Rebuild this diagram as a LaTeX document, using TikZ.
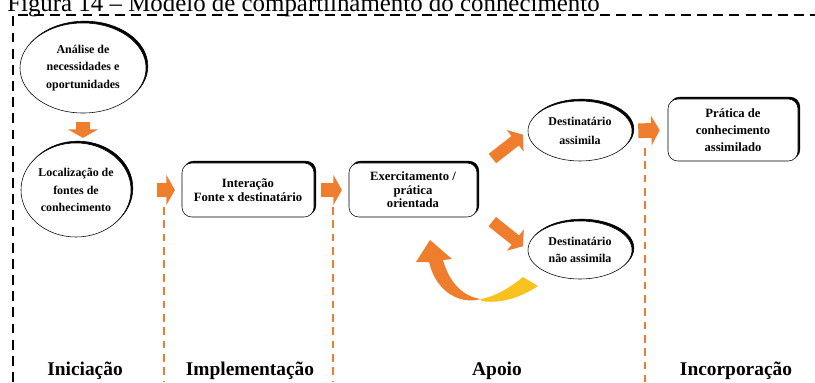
\documentclass[tikz,border=0pt]{standalone}
\usepackage{fontspec}
\setmainfont{Liberation Serif}
\usetikzlibrary{shapes.geometric,shadows,arrows.meta}

\definecolor{arrowc}{RGB}{238,125,45}
\definecolor{tailc}{RGB}{250,194,30}

\tikzset{
  bubble/.style={ellipse, draw, fill=white, inner sep=0pt, align=center,
    copy shadow={shadow xshift=1.3pt, shadow yshift=1.3pt, fill=black, draw=black},
    font=\fontsize{8.5}{12.5}\selectfont\bfseries},
  card/.style={rectangle, rounded corners=7pt, draw, fill=white, align=center,
    copy shadow={shadow xshift=1.3pt, shadow yshift=1.3pt, fill=black, draw=black},
    font=\fontsize{9}{10}\selectfont\bfseries},
  fatarrow/.style={draw=arrowc, line width=10.5pt, -{Triangle[width=21pt,length=6pt]}},
  slantarrow/.style={draw=arrowc, line width=8.5pt, -{Triangle[width=19pt,length=7pt]}},
  phase/.style={font=\fontsize{13.8}{16}\selectfont\bfseries, anchor=base},
  frameline/.style={draw=black, line width=1.4pt, dash pattern=on 7pt off 4.5pt},
  divider/.style={draw=arrowc, line width=1.1pt, dash pattern=on 5.5pt off 4pt}
}

\begin{document}
\begin{tikzpicture}[x=0.025cm,y=-0.025cm]
\useasboundingbox (0,0) rectangle (815,382);

% titulo (cortado no topo)
\node[anchor=base west, inner sep=0pt, font=\fontsize{17.7}{19}\selectfont] (titulo) at (7,11)
  {Figura 14 – Modelo de compartilhamento do conhecimento};

% moldura tracejada
\draw[frameline] (13,382) -- (13,15) -- (815,15);

% divisoes entre fases
\draw[divider] (164,207) -- (164,382);
\draw[divider] (333,207) -- (333,382);
\draw[divider] (645,148) -- (645,382);

% etapas
\node[bubble, minimum width=3.15cm, minimum height=2.25cm] (analise) at (83,68)
  {Análise de\\necessidades e\\oportunidades};
\node[bubble, minimum width=2.75cm, minimum height=2.35cm] (local) at (76,190)
  {Localização de\\fontes de\\conhecimento};
\node[card, minimum width=3.3cm, minimum height=1.35cm] (inter) at (248,190)
  {Interação\\Fonte x destinatário};
\node[card, minimum width=3.2cm, minimum height=1.35cm,
  font=\fontsize{9}{9.5}\selectfont\bfseries] (exer) at (413,190)
  {Exercitamento /\\prática\\orientada};
\node[bubble, minimum width=2.6cm, minimum height=1.5cm,
  font=\fontsize{8.5}{14}\selectfont\bfseries] (assim) at (580,131)
  {Destinatário\\assimila};
\node[bubble, minimum width=2.6cm, minimum height=1.45cm] (nassim) at (580,250)
  {Destinatário\\não assimila};
\node[card, minimum width=3.25cm, minimum height=1.55cm,
  font=\fontsize{9}{12}\selectfont\bfseries] (pratica) at (733,130)
  {Prática de\\conhecimento\\assimilado};

% setas
\draw[fatarrow, shorten <=0.225cm, shorten >=0.12cm] (analise.south) -- (analise.south |- local.north);
\draw[fatarrow, shorten <=0.65cm, shorten >=0.17cm] (local.east) -- (inter.west);
\draw[fatarrow, shorten <=0.17cm, shorten >=0.17cm] (inter.east) -- (exer.west);
\draw[slantarrow, shorten <=0.48cm, shorten >=0.15cm] (exer.17) -- (assim.west);
\draw[slantarrow, shorten <=0.48cm, shorten >=0.15cm] (exer.-17) -- (nassim.west);
\draw[fatarrow, shorten <=0.15cm, shorten >=0.2cm] (assim.east) -- (pratica.west);

% seta curva de retorno
\fill[arrowc] (416,262) -- (430,240) -- (452,259) -- (443,260)
  .. controls (450,285) and (465,297) .. (481,299)
  .. controls (460,305) and (436,292) .. (429,262) -- cycle;
\fill[tailc] (481,299) .. controls (497,296) and (512,286) .. (523,277)
  -- (538,286) .. controls (520,298) and (500,304) .. (481,301) -- cycle;

% fases
\node[phase] (iniciacao) at (85,375) {Iniciação};
\node[phase] (implementacao) at (250,375) {Implementação};
\node[phase] (apoio) at (497,375) {Apoio};
\node[phase] (incorporacao) at (736,375) {Incorporação};
\end{tikzpicture}
\end{document}
